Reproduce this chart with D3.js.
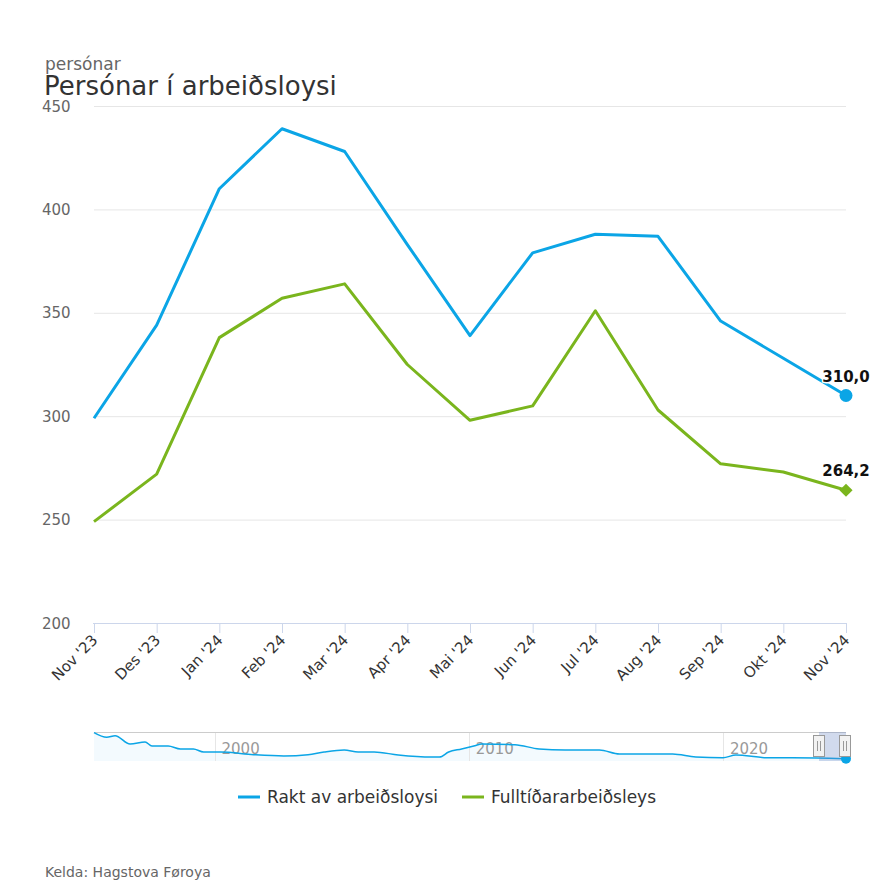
<!DOCTYPE html>
<html>
<head>
<meta charset="utf-8">
<script src="https://cdn.jsdelivr.net/npm/d3@7"></script>
<style>
  body { margin: 0; background: #fff; font-family: "DejaVu Sans", sans-serif; }
  svg text { font-family: "DejaVu Sans", sans-serif; }
</style>
</head>
<body>
<div id="chart"></div>
<script>
const months = ["Nov '23", "Des '23", "Jan '24", "Feb '24", "Mar '24", "Apr '24", "Mai '24",
  "Jun '24", "Jul '24", "Aug '24", "Sep '24", "Okt '24", "Nov '24"];
const rakt = [299, 344, 410, 439, 428, 383, 339, 379, 388, 387, 346, 328, 310.0];
const fulltid = [249, 272, 338, 357, 364, 325, 298, 305, 351, 303, 277, 273, 264.2];
const yTicks = [200, 250, 300, 350, 400, 450];

// navigator overview (year, persons)
const navYears = [1995.26, 1995.76, 1996.09, 1996.68, 1997.27, 1997.54, 1998.18, 1998.66, 1999.17,
  1999.57, 2000.24, 2001.54, 2002.73, 2003.68, 2004.31, 2005.1, 2005.65, 2006.28, 2007.23, 2008.54,
  2008.85, 2009.21, 2009.72, 2010.24, 2010.51, 2011.82, 2012.77, 2013.79, 2015.14, 2015.93, 2017.11,
  2018.02, 2018.93, 2020.0, 2020.51, 2021.7, 2023.68, 2024.84];
const navValues = [1567, 1345, 1422, 1021, 1118, 925, 925, 780, 780,
  635, 635, 504, 442, 504, 635, 731, 635, 635, 490, 393,
  393, 635, 780, 939, 1021, 987, 780, 731, 731, 538, 538,
  538, 393, 359, 490, 359, 345, 310];
const navTicks = [2000, 2010, 2020];

const width = 890;
const height = 890;
const plot = { left: 94, right: 846, top: 106, bottom: 623 };
const blue = "#0ba5e6";
const green = "#7ab51d";

const svg = d3.select("#chart").append("svg")
  .attr("width", width).attr("height", height);

const x = d3.scalePoint().domain(months).range([plot.left, plot.right]);
const y = d3.scaleLinear().domain([200, 450]).range([plot.bottom, plot.top]);

// titles
svg.append("text").attr("x", 45).attr("y", 70)
  .style("font-size", "17px").style("fill", "#666").text("persónar");
svg.append("text").attr("x", 44).attr("y", 95)
  .style("font-size", "26px").style("fill", "#333").text("Persónar í arbeiðsloysi");

// grid
const yAxisGroup = svg.append("g").attr("id", "yAxisGroup");
yAxisGroup.selectAll("line").data(yTicks.filter(d => d > 200)).enter().append("line")
  .attr("x1", plot.left).attr("x2", plot.right)
  .attr("y1", d => y(d) + 0.5).attr("y2", d => y(d) + 0.5)
  .attr("stroke", "#e6e6e6").attr("stroke-width", 1);
yAxisGroup.selectAll("text").data(yTicks).enter().append("text")
  .attr("x", 42).attr("y", d => y(d) + 5.5)
  .style("font-size", "15px").style("fill", "#666")
  .text(d => d);

// x axis
const xAxis = d3.axisBottom(x).tickSize(10).tickSizeOuter(0);
const xAxisGroup = svg.append("g").attr("id", "xAxisGroup")
  .attr("transform", `translate(0, ${plot.bottom})`)
  .call(xAxis);
xAxisGroup.select(".domain").attr("stroke", "#ccd6eb").attr("d", `M${plot.left - 1},0.5H${plot.right + 1}`);
xAxisGroup.selectAll(".tick line").attr("stroke", "#ccd6eb");
xAxisGroup.selectAll(".tick text")
  .style("font-size", "15px").style("fill", "#333")
  .attr("text-anchor", "end")
  .attr("x", 0).attr("y", 0).attr("dy", 0)
  .attr("transform", "translate(4, 18) rotate(-45)");

// lines
const line = d3.line().x((d, i) => x(months[i])).y(d => y(d));
svg.append("path").datum(rakt).attr("d", line)
  .attr("fill", "none").attr("stroke", blue).attr("stroke-width", 3).attr("stroke-linejoin", "round");
svg.append("path").datum(fulltid).attr("d", line)
  .attr("fill", "none").attr("stroke", green).attr("stroke-width", 3).attr("stroke-linejoin", "round");

const last = months.length - 1;
const lx = x(months[last]);
svg.append("circle").attr("cx", lx).attr("cy", y(rakt[last])).attr("r", 6.5).attr("fill", blue);
svg.append("path")
  .attr("d", d3.symbol().type(d3.symbolDiamond2).size(110)())
  .attr("transform", `translate(${lx}, ${y(fulltid[last])})`)
  .attr("fill", green);

const fmt = v => v.toFixed(1).replace(".", ",");
svg.append("text").attr("x", lx).attr("y", y(rakt[last]) - 14)
  .attr("text-anchor", "middle").style("font-size", "15px").style("font-weight", "bold")
  .style("fill", "#111").style("stroke", "#fff").style("stroke-width", 3).style("paint-order", "stroke")
  .text(fmt(rakt[last]));
svg.append("text").attr("x", lx).attr("y", y(fulltid[last]) - 14)
  .attr("text-anchor", "middle").style("font-size", "15px").style("font-weight", "bold")
  .style("fill", "#111").style("stroke", "#fff").style("stroke-width", 3).style("paint-order", "stroke")
  .text(fmt(fulltid[last]));

// navigator
const nav = { top: 732, bottom: 761 };
const nx = d3.scaleLinear().domain([navYears[0], navYears[navYears.length - 1]]).range([plot.left, plot.right]);
const ny = d3.scaleLinear().domain([200, 1600]).range([nav.bottom, nav.top]);
const navGroup = svg.append("g").attr("id", "navigator");
navGroup.append("path").datum(navValues)
  .attr("d", d3.area().x((d, i) => nx(navYears[i])).y0(nav.bottom).y1(d => ny(d)))
  .attr("fill", blue).attr("fill-opacity", 0.05);
navGroup.selectAll(".navgrid").data(navTicks).enter().append("line")
  .attr("x1", d => Math.round(nx(d)) + 0.5).attr("x2", d => Math.round(nx(d)) + 0.5)
  .attr("y1", nav.top).attr("y2", nav.bottom)
  .attr("stroke", "#e6e6e6");
navGroup.selectAll(".navlabel").data(navTicks).enter().append("text")
  .attr("x", d => nx(d) + 7).attr("y", nav.top + 22)
  .style("font-size", "15px").style("fill", "#999").text(d => d);
navGroup.append("line").attr("x1", plot.left).attr("x2", plot.right)
  .attr("y1", nav.top + 0.5).attr("y2", nav.top + 0.5).attr("stroke", "#cccccc");
navGroup.append("path").datum(navValues)
  .attr("d", d3.line().curve(d3.curveMonotoneX).x((d, i) => nx(navYears[i])).y(d => ny(d)))
  .attr("fill", "none").attr("stroke", blue).attr("stroke-width", 1.5);
navGroup.append("rect").attr("x", 819).attr("y", nav.top).attr("width", plot.right - 819)
  .attr("height", nav.bottom - nav.top).attr("fill", "rgba(102,133,194,0.3)");
navGroup.append("circle").attr("cx", plot.right).attr("cy", ny(navValues[navValues.length - 1]))
  .attr("r", 5).attr("fill", blue);
[819, 845].forEach(hx => {
  const h = navGroup.append("g").attr("transform", `translate(${hx}, 746)`);
  h.append("rect").attr("x", -5.5).attr("y", -10.5).attr("width", 11).attr("height", 21)
    .attr("fill", "#f2f2f2").attr("stroke", "#999");
  h.append("line").attr("x1", -1.5).attr("x2", -1.5).attr("y1", -5).attr("y2", 5).attr("stroke", "#999");
  h.append("line").attr("x1", 1.5).attr("x2", 1.5).attr("y1", -5).attr("y2", 5).attr("stroke", "#999");
});

// legend
const legend = svg.append("g").attr("id", "legend");
const legendItems = [
  { name: "Rakt av arbeiðsloysi", color: blue, x: 238 },
  { name: "Fulltíðararbeiðsleys", color: green, x: 462 }
];
legendItems.forEach(it => {
  legend.append("line").attr("x1", it.x).attr("x2", it.x + 22)
    .attr("y1", 797).attr("y2", 797).attr("stroke", it.color).attr("stroke-width", 3);
  legend.append("text").attr("x", it.x + 29).attr("y", 803)
    .style("font-size", "17px").style("fill", "#333").text(it.name);
});

// credits
svg.append("text").attr("x", 45).attr("y", 877)
  .style("font-size", "14px").style("fill", "#666").text("Kelda: Hagstova Føroya");
</script>
</body>
</html>
